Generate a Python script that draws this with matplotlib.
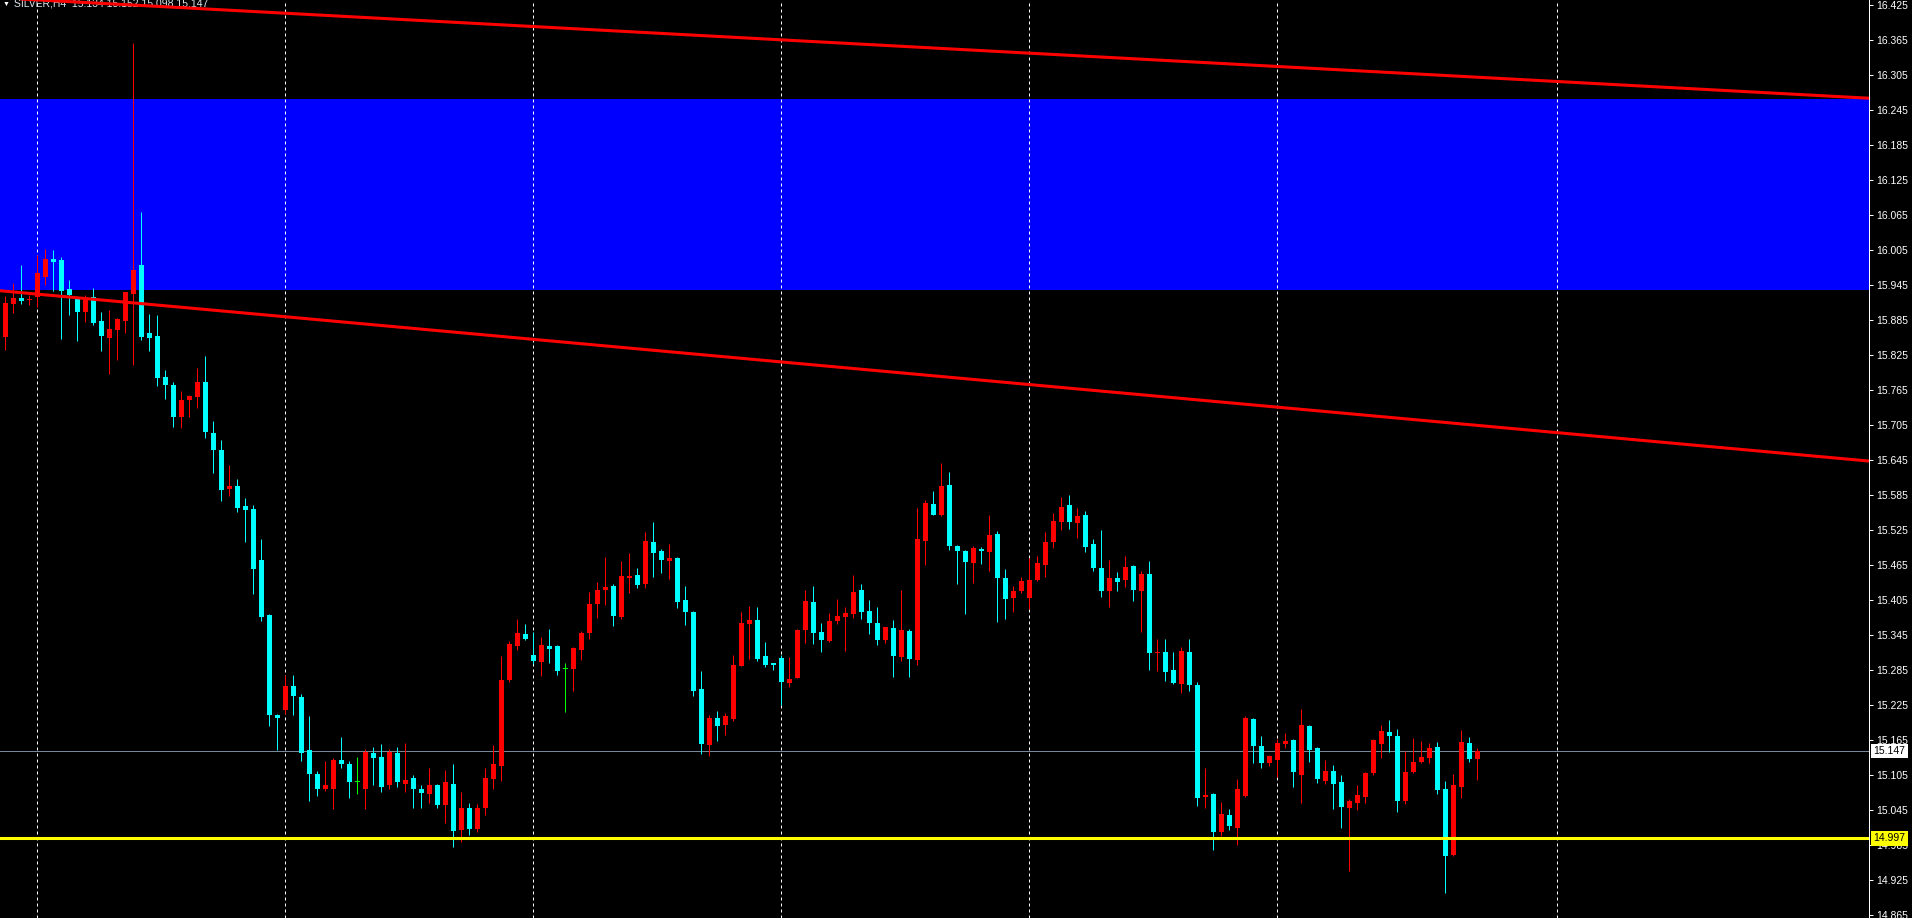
import numpy as np
import matplotlib
matplotlib.use('Agg')
import matplotlib.pyplot as plt

plt.rcParams['font.family'] = ['Liberation Sans', 'DejaVu Sans']

# SILVER H4 candles (open, high, low, close), oldest first
opens = [15.857, 15.914, 15.924, 15.920, 15.925, 15.960, 15.990, 15.989, 15.939, 15.922,
         15.900, 15.925, 15.884, 15.855, 15.869, 15.884, 15.930, 15.980, 15.864, 15.858,
         15.788, 15.774, 15.720, 15.749, 15.753, 15.780, 15.692, 15.663, 15.596, 15.601,
         15.567, 15.562, 15.474, 15.380, 15.209, 15.218, 15.258, 15.240, 15.148, 15.108,
         15.082, 15.082, 15.132, 15.125, 15.093, 15.082, 15.144, 15.137, 15.088, 15.144,
         15.091, 15.100, 15.082, 15.074, 15.088, 15.055, 15.090, 15.011, 15.049, 15.013,
         15.049, 15.099, 15.121, 15.269, 15.327, 15.348, 15.312, 15.300, 15.327, 15.327,
         15.287, 15.288, 15.320, 15.349, 15.399, 15.423, 15.430, 15.377, 15.443, 15.449,
         15.433, 15.505, 15.490, 15.473, 15.478, 15.406, 15.385, 15.253, 15.157, 15.204,
         15.192, 15.202, 15.293, 15.365, 15.372, 15.310, 15.298, 15.306, 15.264, 15.272,
         15.354, 15.402, 15.351, 15.336, 15.370, 15.377, 15.382, 15.423, 15.387, 15.366,
         15.337, 15.358, 15.308, 15.353, 15.303, 15.507, 15.570, 15.552, 15.603, 15.498,
         15.490, 15.469, 15.493, 15.488, 15.519, 15.444, 15.409, 15.421, 15.409, 15.440,
         15.466, 15.505, 15.540, 15.569, 15.538, 15.552, 15.502, 15.461, 15.421, 15.444,
         15.440, 15.464, 15.421, 15.450, 15.315, 15.317, 15.286, 15.262, 15.317, 15.260,
         15.068, 15.073, 15.008, 15.037, 15.015, 15.070, 15.202, 15.156, 15.126, 15.132,
         15.159, 15.166, 15.106, 15.190, 15.152, 15.096, 15.113, 15.094, 15.049, 15.058,
         15.068, 15.109, 15.159, 15.180, 15.173, 15.061, 15.111, 15.128, 15.135, 15.154,
         15.082, 14.969, 15.085, 15.161, 15.134]
highs = [15.927, 15.949, 15.980, 15.929, 15.997, 16.008, 16.006, 15.994, 15.954, 15.925,
         15.929, 15.941, 15.900, 15.903, 15.889, 15.934, 16.361, 16.071, 15.896, 15.894,
         15.800, 15.780, 15.764, 15.758, 15.804, 15.824, 15.713, 15.680, 15.637, 15.613,
         15.581, 15.569, 15.510, 15.381, 15.211, 15.277, 15.277, 15.245, 15.207, 15.113,
         15.129, 15.135, 15.171, 15.130, 15.137, 15.151, 15.153, 15.159, 15.151, 15.154,
         15.161, 15.105, 15.089, 15.117, 15.091, 15.115, 15.125, 15.077, 15.058, 15.056,
         15.118, 15.157, 15.310, 15.336, 15.373, 15.365, 15.351, 15.342, 15.356, 15.329,
         15.298, 15.325, 15.353, 15.420, 15.437, 15.480, 15.433, 15.473, 15.486, 15.461,
         15.522, 15.540, 15.493, 15.502, 15.480, 15.430, 15.387, 15.284, 15.209, 15.216,
         15.212, 15.312, 15.385, 15.396, 15.394, 15.334, 15.298, 15.312, 15.308, 15.356,
         15.423, 15.430, 15.366, 15.384, 15.407, 15.394, 15.449, 15.433, 15.406, 15.394,
         15.360, 15.372, 15.423, 15.356, 15.564, 15.577, 15.593, 15.641, 15.625, 15.500,
         15.492, 15.498, 15.497, 15.552, 15.524, 15.459, 15.430, 15.445, 15.478, 15.481,
         15.522, 15.555, 15.582, 15.586, 15.564, 15.558, 15.510, 15.526, 15.474, 15.454,
         15.481, 15.466, 15.456, 15.473, 15.339, 15.339, 15.317, 15.325, 15.339, 15.265,
         15.118, 15.075, 15.060, 15.048, 15.099, 15.207, 15.204, 15.173, 15.140, 15.168,
         15.178, 15.167, 15.219, 15.192, 15.154, 15.131, 15.123, 15.106, 15.065, 15.089,
         15.111, 15.168, 15.192, 15.200, 15.185, 15.147, 15.169, 15.164, 15.161, 15.162,
         15.096, 15.108, 15.183, 15.171, 15.152]
lows = [15.835, 15.898, 15.914, 15.912, 15.908, 15.946, 15.936, 15.853, 15.894, 15.850,
        15.882, 15.877, 15.833, 15.793, 15.817, 15.864, 15.809, 15.852, 15.833, 15.773,
        15.750, 15.703, 15.701, 15.720, 15.735, 15.684, 15.624, 15.576, 15.584, 15.557,
        15.505, 15.416, 15.370, 15.190, 15.148, 15.211, 15.209, 15.129, 15.062, 15.069,
        15.079, 15.048, 15.117, 15.067, 15.074, 15.048, 15.088, 15.076, 15.081, 15.086,
        15.076, 15.050, 15.050, 15.057, 15.050, 15.024, 14.982, 14.991, 15.003, 15.008,
        15.037, 15.082, 15.096, 15.265, 15.320, 15.337, 15.296, 15.276, 15.298, 15.277,
        15.214, 15.250, 15.303, 15.339, 15.375, 15.397, 15.361, 15.373, 15.418, 15.426,
        15.426, 15.445, 15.452, 15.442, 15.392, 15.363, 15.241, 15.142, 15.138, 15.164,
        15.174, 15.198, 15.293, 15.305, 15.301, 15.291, 15.286, 15.225, 15.257, 15.272,
        15.332, 15.330, 15.317, 15.334, 15.365, 15.318, 15.375, 15.373, 15.348, 15.329,
        15.332, 15.274, 15.301, 15.274, 15.294, 15.466, 15.552, 15.550, 15.492, 15.433,
        15.382, 15.435, 15.468, 15.455, 15.368, 15.373, 15.385, 15.418, 15.390, 15.438,
        15.445, 15.495, 15.526, 15.528, 15.512, 15.488, 15.456, 15.411, 15.394, 15.421,
        15.428, 15.404, 15.351, 15.286, 15.284, 15.267, 15.262, 15.246, 15.250, 15.053,
        15.049, 14.977, 15.001, 15.011, 14.986, 15.068, 15.126, 15.118, 15.121, 15.102,
        15.152, 15.085, 15.058, 15.128, 15.092, 15.090, 15.048, 15.015, 14.941, 15.046,
        15.058, 15.106, 15.135, 15.145, 15.042, 15.056, 15.109, 15.126, 15.126, 15.073,
        14.904, 14.967, 15.066, 15.128, 15.098]
closes = [15.915, 15.924, 15.918, 15.921, 15.966, 15.990, 15.985, 15.936, 15.928, 15.900,
          15.920, 15.881, 15.858, 15.870, 15.888, 15.934, 15.972, 15.857, 15.855, 15.786,
          15.774, 15.720, 15.749, 15.756, 15.780, 15.694, 15.663, 15.595, 15.601, 15.564,
          15.560, 15.459, 15.377, 15.209, 15.204, 15.258, 15.242, 15.144, 15.108, 15.081,
          15.088, 15.132, 15.125, 15.094, 15.093, 15.146, 15.135, 15.086, 15.146, 15.093,
          15.098, 15.081, 15.075, 15.088, 15.055, 15.093, 15.010, 15.049, 15.013, 15.049,
          15.101, 15.125, 15.269, 15.330, 15.349, 15.339, 15.301, 15.329, 15.322, 15.284,
          15.287, 15.324, 15.349, 15.399, 15.423, 15.428, 15.378, 15.447, 15.447, 15.431,
          15.507, 15.486, 15.474, 15.478, 15.402, 15.385, 15.250, 15.159, 15.204, 15.190,
          15.207, 15.294, 15.366, 15.372, 15.305, 15.294, 15.294, 15.265, 15.270, 15.354,
          15.404, 15.349, 15.337, 15.370, 15.378, 15.384, 15.420, 15.385, 15.366, 15.337,
          15.360, 15.310, 15.354, 15.305, 15.510, 15.572, 15.552, 15.601, 15.498, 15.490,
          15.471, 15.495, 15.490, 15.517, 15.444, 15.408, 15.421, 15.438, 15.440, 15.469,
          15.505, 15.541, 15.565, 15.540, 15.550, 15.497, 15.461, 15.421, 15.444, 15.437,
          15.462, 15.423, 15.450, 15.315, 15.317, 15.282, 15.264, 15.318, 15.260, 15.066,
          15.072, 15.008, 15.039, 15.018, 15.082, 15.204, 15.156, 15.126, 15.138, 15.161,
          15.164, 15.111, 15.192, 15.149, 15.099, 15.113, 15.090, 15.051, 15.061, 15.072,
          15.109, 15.166, 15.181, 15.173, 15.061, 15.111, 15.128, 15.137, 15.152, 15.080,
          14.967, 15.089, 15.162, 15.133, 15.147]

# chart objects
zone_low, zone_high = 15.938, 16.264
trend_lines = [((-0.66, 16.438), (233.0, 16.266)),
               ((-0.66, 15.936), (233.0, 15.644))]
support_level = 14.997
bid_price = 15.147
grid_bars = [4, 35, 66, 97, 128, 159, 194]
tick_prices = [16.425, 16.365, 16.305, 16.245, 16.185, 16.125, 16.065, 16.005, 15.945,
               15.885, 15.825, 15.765, 15.705, 15.645, 15.585, 15.525, 15.465, 15.405,
               15.345, 15.285, 15.225, 15.165, 15.105, 15.045, 14.985, 14.925, 14.865]
title = 'SILVER,H4  15.134 15.152 15.098 15.147'

W, H = 1912, 918
fig = plt.figure(figsize=(W / 100, H / 100), dpi=100, facecolor='black')
ax = fig.add_axes([0, 0, 1869 / W, 1])
ax.set_facecolor('black')
ax.set_xlim(-0.6625, 233.0)
ax.set_ylim(14.8607, 16.4344)

px = 0.72  # one pixel in points

# background rectangle
ax.axhspan(zone_low, zone_high, color='#0000ff', lw=0, zorder=0)

# period separators
for g in grid_bars:
    ax.axvline(g, color='white', lw=px, ls=(0, (3, 3)), zorder=1)

# bid line
ax.axhline(bid_price, color='#778899', lw=px, zorder=1.5)

# candles
o = np.array(opens)
h = np.array(highs)
l = np.array(lows)
c = np.array(closes)
idx = np.arange(len(o))
cols = np.where(c > o, '#ff0000', np.where(c < o, '#00ffff', '#00ff00'))
ax.vlines(idx, l, h, colors=cols, lw=px, zorder=2)
bottoms = np.minimum(o, c)
heights = np.maximum(np.abs(c - o), 0.0018)
ax.bar(idx, heights, bottom=bottoms, width=0.625, color=cols, lw=0, zorder=3)

# trend lines and support
for (x0, p0), (x1, p1) in trend_lines:
    ax.plot([x0, x1], [p0, p1], color='#ff0000', lw=2.2, solid_capstyle='butt', zorder=4)
ax.axhline(support_level, color='#ffff00', lw=2.2, zorder=4)

# right price scale
ax.yaxis.tick_right()
ax.set_yticks(tick_prices)
ax.set_yticklabels([f'{t:.3f}' for t in tick_prices])
ax.tick_params(axis='y', colors='white', length=3, width=px, labelsize=7.5, pad=2)
ax.set_xticks([])
for side in ['top', 'left', 'bottom']:
    ax.spines[side].set_visible(False)
ax.spines['right'].set_color('white')
ax.spines['right'].set_linewidth(px)

# price tags
for price, fc in [(bid_price, 'white'), (support_level, '#ffff00')]:
    ax.text(1.0025, price, f'{price:.3f}', transform=ax.get_yaxis_transform(),
            fontsize=7.5, color='black', va='center', ha='left', clip_on=False, zorder=6,
            bbox=dict(boxstyle='square,pad=0.22', fc=fc, ec='none'))

# symbol header
ax.text(3 / 1869, 1 - 1 / H, '\u25bc', transform=ax.transAxes, fontsize=5,
        color='white', va='top', ha='left', zorder=3.5)
ax.text(14 / 1869, 1 + 1 / H, title, transform=ax.transAxes, fontsize=7.5,
        color='#dde6ee', va='top', ha='left', zorder=3.5)

fig.savefig('out.png', dpi=100, facecolor='black')
